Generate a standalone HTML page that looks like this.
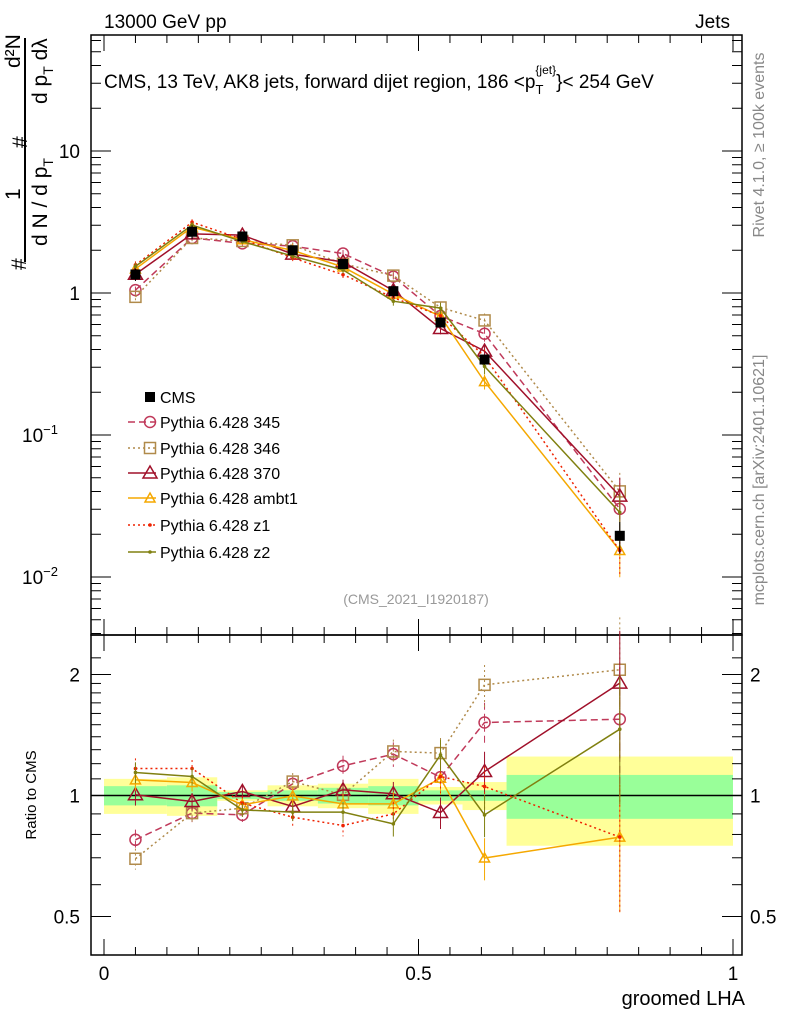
<!DOCTYPE html>
<html><head><meta charset="utf-8"><style>
body{margin:0;background:#fff}
svg{display:block;font-family:"Liberation Sans",sans-serif}
</style></head><body>
<svg id="c" width="786" height="1024" viewBox="0 0 786 1024" xmlns="http://www.w3.org/2000/svg">
<text x="104" y="28" font-size="19">13000 GeV pp</text>
<text x="730" y="28" font-size="19" text-anchor="end">Jets</text>
<text x="104" y="88" font-size="19">CMS, 13 TeV, AK8 jets, forward dijet region, 186 &lt;p<tspan font-size="13" dy="6">T</tspan><tspan font-size="12" dy="-20" dx="-8">{jet}</tspan><tspan dy="14">}&lt; 254 GeV</tspan></text>
<text transform="translate(764,145) rotate(-90)" font-size="16" fill="#888" text-anchor="middle">Rivet 4.1.0, ≥ 100k events</text>
<text transform="translate(764,480) rotate(-90)" font-size="16" fill="#888" text-anchor="middle">mcplots.cern.ch [arXiv:2401.10621]</text>
<text x="416" y="604" font-size="14" fill="#999" text-anchor="middle">(CMS_2021_I1920187)</text>
<g transform="rotate(-90)" font-size="21">
<text x="-270" y="26">#</text>
<text x="-200" y="20">1</text>
<line x1="-262" y1="25" x2="-38" y2="25" stroke="#000" stroke-width="2"/>
<text x="-246" y="47">d N / d p<tspan font-size="14" dy="6">T</tspan></text>
<text x="-148" y="27">#</text>
<text x="-68" y="20">d²N</text>
<text x="-104" y="47">d p<tspan font-size="14" dy="6">T</tspan><tspan dy="-6"> dλ</tspan></text>
</g>
<text transform="translate(36,795) rotate(-90)" font-size="15" text-anchor="middle">Ratio to CMS</text>
<text x="745" y="1005" font-size="20" text-anchor="end">groomed LHA</text>
<g id="bands"></g><g id="frames"></g><g id="series"></g><g id="legend"></g>
</svg>
<script>
const NS="http://www.w3.org/2000/svg";
const edges=[0,0.1,0.18,0.26,0.34,0.42,0.5,0.57,0.64,1.0];
const xcent=[0.05,0.14,0.22,0.30,0.38,0.46,0.535,0.605,0.82];
const cmsVals=[1.35,2.7,2.5,2.0,1.6,1.03,0.62,0.34,0.0195];
const cmsStat=[0.055,0.06,0.02,0.03,0.045,0.055,0.03,0.03,0.125];
const cmsTot=[0.1,0.11,0.03,0.06,0.07,0.1,0.05,0.08,0.25];
const names=["Pythia 6.428 345","Pythia 6.428 346","Pythia 6.428 370","Pythia 6.428 ambt1","Pythia 6.428 z1","Pythia 6.428 z2"];
const r345=[0.776,0.904,0.895,1.069,1.185,1.267,1.111,1.519,1.548];
const r346=[0.696,0.904,0.930,1.083,1.004,1.287,1.275,1.885,2.055];
const r370=[1.004,0.966,1.023,0.939,1.033,1.01,0.907,1.147,1.903];
const rambt1=[1.094,1.077,0.948,0.998,0.953,0.953,1.104,0.699,0.788];
const rz1=[1.167,1.167,0.957,0.883,0.842,0.9,1.115,1.053,0.788];
const rz2=[1.141,1.115,0.921,0.909,0.909,0.85,1.262,0.895,1.462];
const relErr=[0.06,0.05,0.04,0.05,0.06,0.07,0.09,0.12,0.35];
const styles=[
 {c:"#c0395a",d:"7,4",m:"circle",n:"pythia-345"},
 {c:"#b08a4a",d:"2,3",m:"square",n:"pythia-346"},
 {c:"#a0102a",d:"",m:"triangle",n:"pythia-370"},
 {c:"#f5a800",d:"",m:"tri-small",n:"pythia-ambt1"},
 {c:"#ee2200",d:"2,3",m:"dot",n:"pythia-z1"},
 {c:"#808010",d:"",m:"dot",n:"pythia-z2"}];
const ratios=[r345,r346,r370,rambt1,rz1,rz2];
const X=v=>104+629*v;
const Y=v=>293-142*Math.log10(v);
const R=v=>795.5-402*Math.log10(v);
function el(t,a,p){const e=document.createElementNS(NS,t);for(const k in a)e.setAttribute(k,a[k]);(p||document.getElementById('series')).appendChild(e);return e;}
const bands=document.getElementById('bands'),fr=document.getElementById('frames'),sg=document.getElementById('series'),lg=document.getElementById('legend');
for(let i=0;i<9;i++){
 let b=el('rect',{x:X(edges[i]),y:R(1+cmsTot[i]),width:X(edges[i+1])-X(edges[i]),height:R(1-cmsTot[i])-R(1+cmsTot[i]),fill:"#ffff99"},bands);
 
 
}
for(let i=0;i<9;i++){
 let b=el('rect',{x:X(edges[i]),y:R(1+cmsStat[i]),width:X(edges[i+1])-X(edges[i]),height:R(1-cmsStat[i])-R(1+cmsStat[i]),fill:"#99ff99"},bands);
 
 
}
el('line',{x1:91,y1:795.5,x2:742,y2:795.5,stroke:"#000","stroke-width":1.5},bands);
el('rect',{x:91,y:35,width:651,height:600,fill:"none",stroke:"#000","stroke-width":1.5},fr);
el('rect',{x:91,y:635,width:651,height:320,fill:"none",stroke:"#000","stroke-width":1.5},fr);
for(let v=0;v<=1.0001;v+=0.05){const maj=Math.abs(v*2-Math.round(v*2))<1e-6;const L=maj?16:8;
 [[35,1],[635,-1],[635,1],[955,-1]].forEach(([y0,s])=>el('line',{x1:X(v),y1:y0,x2:X(v),y2:y0+s*L,stroke:"#000"},fr));}
[["0",0],["0.5",0.5],["1",1]].forEach(([t,v])=>{let e=el('text',{x:X(v),y:980,"font-size":19,"text-anchor":"middle"},fr);e.textContent=t;
 
 });
for(let d=-3;d<=1;d++)for(let m=1;m<10;m++){const v=m*Math.pow(10,d);const y=Y(v);if(y<35||y>635)continue;const L=m==1?20:10;
 el('line',{x1:91,y1:y,x2:91+L,y2:y,stroke:"#000"},fr);el('line',{x1:742,y1:y,x2:742-L,y2:y,stroke:"#000"},fr);}
const ylabs=[["10",10],["1",1]];
ylabs.forEach(([t,v])=>{let e=el('text',{x:80,y:Y(v)+7,"font-size":19,"text-anchor":"end"},fr);e.textContent=t;
 
 });
[[-1,0.1],[-2,0.01]].forEach(([p,v])=>{let e=el('text',{x:58,y:Y(v)+7,"font-size":19,"text-anchor":"end"},fr);e.innerHTML='10<tspan font-size="13" dy="-8">−'+(-p)+'</tspan>';
 
 });
const rt=[0.5,0.6,0.7,0.8,0.9,1,1.1,1.2,1.3,1.4,1.5,1.6,1.7,1.8,1.9,2,2.2];
rt.forEach(v=>{const y=R(v);if(y<635||y>955)return;const maj=(v==0.5||v==1||v==2);const L=maj?20:10;
 el('line',{x1:91,y1:y,x2:91+L,y2:y,stroke:"#000"},fr);el('line',{x1:742,y1:y,x2:742-L,y2:y,stroke:"#000"},fr);});
[["2",2],["1",1],["0.5",0.5]].forEach(([t,v])=>{let e=el('text',{x:80,y:R(v)+7,"font-size":19,"text-anchor":"end"},fr);e.textContent=t;
 
 let f=el('text',{x:750,y:R(v)+7,"font-size":19},fr);f.textContent=t;
 
 });
function marker(g,type,x,y,c){
 if(type=="circle")el('circle',{cx:x,cy:y,r:5.5,fill:"none",stroke:c,"stroke-width":1.5},g);
 else if(type=="square")el('rect',{x:x-5.5,y:y-5.5,width:11,height:11,fill:"none",stroke:c,"stroke-width":1.5},g);
 else if(type=="triangle")el('path',{d:`M${x},${y-7}L${x+7},${y+5}L${x-7},${y+5}Z`,fill:"none",stroke:c,"stroke-width":1.5},g);
 else if(type=="tri-small")el('path',{d:`M${x},${y-5}L${x+5},${y+4}L${x-5},${y+4}Z`,fill:"none",stroke:c,"stroke-width":1.5},g);
 else if(type=="dot")el('circle',{cx:x,cy:y,r:1.8,fill:c},g);
 else if(type=="cms")el('rect',{x:x-5,y:y-5,width:10,height:10,fill:"#000"},g);
}
ratios.forEach((r,si)=>{const s=styles[si];
 const g=el('g',{},sg);
 
 
 const vals=r.map((q,i)=>q*cmsVals[i]);
 el('polyline',{points:vals.map((v,i)=>X(xcent[i])+','+Y(v)).join(' '),fill:"none",stroke:s.c,"stroke-width":1.5,"stroke-dasharray":s.d},g);
 el('polyline',{points:r.map((v,i)=>X(xcent[i])+','+R(v)).join(' '),fill:"none",stroke:s.c,"stroke-width":1.5,"stroke-dasharray":s.d},g);
 vals.forEach((v,i)=>{const x=X(xcent[i]);const e=relErr[i];
  el('line',{x1:x,y1:Y(v*(1+e)),x2:x,y2:Y(v*Math.max(0.3,1-e)),stroke:s.c,"stroke-dasharray":s.d},g);
  el('line',{x1:x,y1:R(r[i]*(1+e)),x2:x,y2:R(r[i]*Math.max(0.3,1-e)),stroke:s.c,"stroke-dasharray":s.d},g);
  marker(g,s.m,x,Y(v),s.c);marker(g,s.m,x,R(r[i]),s.c);});
});
const cg=el('g',{},sg);


cmsVals.forEach((v,i)=>{const x=X(xcent[i]);
 el('line',{x1:x,y1:Y(v*(1+cmsTot[i])),x2:x,y2:Y(v*(1-cmsTot[i])),stroke:"#000"},cg);
 marker(cg,'cms',x,Y(v));});
const ly=[397,422,448,473,498,525,552];
const lmk=el('g',{},lg);marker(lmk,'cms',150,ly[0]);
let t0=el('text',{x:160,y:ly[0]+6,"font-size":16},lg);t0.textContent="CMS";


names.forEach((n,i)=>{const s=styles[i];const y=ly[i+1];
 const g=el('g',{},lg);
 
 
 el('line',{x1:128,y1:y,x2:156,y2:y,stroke:s.c,"stroke-width":1.5,"stroke-dasharray":s.d},g);
 marker(g,s.m,150,y,s.c);
 const t=el('text',{x:160,y:y+6,"font-size":16},g);t.textContent=n;});
</script>
</body></html>
